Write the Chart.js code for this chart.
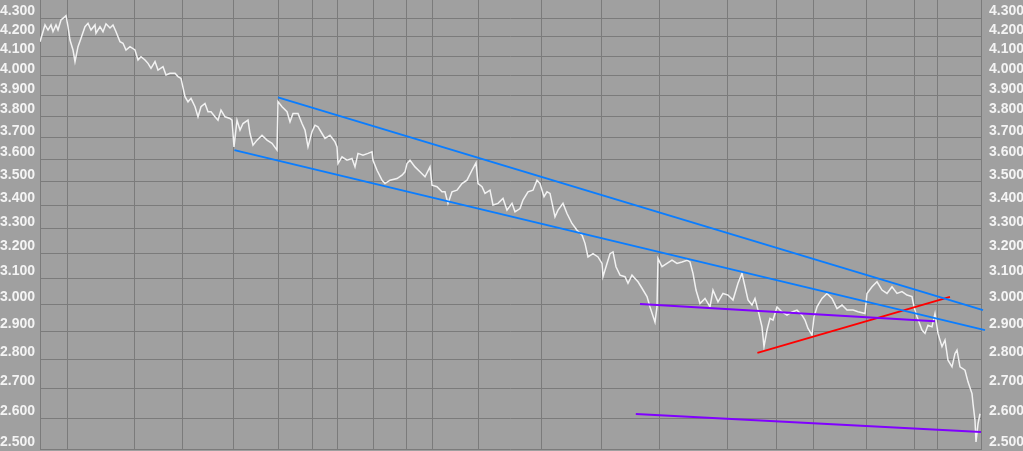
<!DOCTYPE html>
<html>
<head>
<meta charset="utf-8">
<script src="https://cdn.jsdelivr.net/npm/chart.js@4.4.1/dist/chart.umd.min.js"></script>
<style>
    html, body { margin: 0; padding: 0; background: #a0a0a0; }
    canvas { display: block; }
</style>
</head>
<body>
<canvas id="grafico" width="1023" height="451"></canvas>
<script>
// ============================================================================
// DATA
// ============================================================================
// price series: trading day index -> close
const priceDays = [
    0, 2.5, 4, 5.5, 6.5, 8, 9, 10.5, 12.5, 13, 14, 15, 16.5, 17.5, 19, 20.5, 22.5, 24, 25.5, 27.5,
    28, 30, 31.5, 33, 35, 36.5, 38, 40, 41.5, 43, 45, 47.5, 49, 50.5, 52.5, 54, 55.5, 57.5, 59, 61.5,
    63, 65, 67.5, 69, 70.5, 72.5, 74, 75.5, 77.5, 79, 80.5, 82.5, 84, 85.5, 87.5, 89, 90.5, 92.5, 95, 96,
    97, 98.5, 100, 101.5, 104, 105, 106.5, 108.5, 111, 113.5, 116, 118.5, 119, 121, 123.5, 125, 126.5, 129, 131, 132.5,
    134, 136, 137.5, 139, 141, 142.5, 145, 147.5, 148.5, 149, 151, 153.5, 156, 157.5, 159, 161.5, 164, 166, 166.5, 168.5,
    171, 172.5, 175, 178.5, 181, 182.5, 183.5, 185, 187.5, 190, 192.5, 195, 196, 198.5, 201, 202.5, 204, 206, 208.5, 211,
    213.5, 216, 218, 219, 221, 222.5, 225, 226.5, 229, 231.5, 233.5, 236, 237.5, 240, 241.5, 244, 246.5, 248.5, 250, 252,
    253.5, 255, 257.5, 259, 261.5, 263.5, 266, 268.5, 271, 272.5, 274, 276.5, 279, 281, 281.5, 283.5, 285, 286.5, 288, 290,
    292.5, 294, 296, 297.5, 299, 301, 303.5, 305, 307.5, 308.5, 309, 311, 313.5, 316, 318.5, 321, 323.5, 325, 326.5, 328,
    330, 332.5, 335, 336.5, 339, 341.5, 344, 346.5, 349, 351, 352.5, 354, 356, 357.5, 359, 361, 362, 363.5, 365, 366.5,
    368.5, 371, 373.5, 376, 378.5, 381, 382.5, 384, 386, 387, 388.5, 391, 393.5, 396, 398.5, 401, 403.5, 406.5, 409, 412.5,
    413.5, 416, 418.5, 421, 423.5, 426, 428.5, 431, 433.5, 436, 437, 438.5, 441, 442.5, 444, 446, 447.5, 449, 451, 452.5,
    454, 456, 457.5, 458.5, 460, 462.5, 464, 466, 466.5, 467.5, 468, 469, 470
];
const priceValues = [
    4.175, 4.264, 4.237, 4.264, 4.228, 4.264, 4.237, 4.291, 4.309, 4.314, 4.255, 4.184, 4.132, 4.072, 4.149, 4.193, 4.255, 4.273, 4.237, 4.264,
    4.220, 4.255, 4.228, 4.270, 4.248, 4.264, 4.228, 4.175, 4.167, 4.132, 4.149, 4.132, 4.080, 4.097, 4.080, 4.063, 4.038, 4.072, 4.029, 4.046,
    4.004, 4.013, 4.013, 3.996, 3.987, 3.896, 3.871, 3.888, 3.847, 3.799, 3.847, 3.863, 3.823, 3.823, 3.799, 3.783, 3.831, 3.799, 3.791, 3.783,
    3.658, 3.783, 3.736, 3.767, 3.783, 3.720, 3.666, 3.689, 3.712, 3.689, 3.674, 3.643, 3.872, 3.847, 3.823, 3.775, 3.815, 3.815, 3.767, 3.736,
    3.658, 3.728, 3.759, 3.751, 3.720, 3.697, 3.712, 3.681, 3.658, 3.582, 3.612, 3.597, 3.605, 3.567, 3.628, 3.620, 3.628, 3.635, 3.597, 3.552,
    3.508, 3.493, 3.508, 3.515, 3.530, 3.545, 3.582, 3.597, 3.567, 3.545, 3.523, 3.567, 3.486, 3.479, 3.457, 3.457, 3.407, 3.457, 3.464, 3.493,
    3.508, 3.552, 3.585, 3.493, 3.479, 3.450, 3.464, 3.400, 3.407, 3.428, 3.378, 3.407, 3.371, 3.385, 3.421, 3.457, 3.464, 3.508, 3.493, 3.436,
    3.457, 3.450, 3.350, 3.378, 3.407, 3.364, 3.322, 3.294, 3.274, 3.240, 3.185, 3.198, 3.185, 3.159, 3.107, 3.159, 3.198, 3.205, 3.146, 3.113,
    3.107, 3.081, 3.113, 3.100, 3.087, 3.062, 3.030, 2.991, 2.934, 2.991, 3.179, 3.146, 3.159, 3.172, 3.159, 3.165, 3.172, 3.165, 3.120, 3.055,
    3.004, 3.023, 2.991, 3.055, 3.010, 3.042, 3.036, 3.017, 3.081, 3.120, 3.068, 3.017, 2.998, 3.023, 2.979, 2.917, 2.845, 2.905, 2.948, 2.942,
    2.991, 2.972, 2.960, 2.972, 2.979, 2.960, 2.942, 2.911, 2.887, 2.954, 2.991, 3.023, 3.042, 3.023, 2.985, 2.998, 2.979, 2.979, 2.973, 2.966,
    3.042, 3.068, 3.087, 3.055, 3.042, 3.068, 3.042, 3.049, 3.036, 3.030, 2.991, 2.954, 2.905, 2.893, 2.923, 2.917, 2.966, 2.893, 2.845, 2.869,
    2.797, 2.774, 2.821, 2.833, 2.774, 2.762, 2.722, 2.682, 2.649, 2.593, 2.524, 2.582, 2.615
];

// vertical grid lines (period boundaries, in trading days)
const gridDays = [0, 13.5, 47, 71, 96.5, 119, 136, 148.5, 166.5, 183, 196, 219, 250.5, 280.5,
                  309.5, 343.5, 368, 386.5, 413, 437, 448.5, 470.5];

// price ticks (log scale)
const yTicks = [2.5, 2.6, 2.7, 2.8, 2.9, 3.0, 3.1, 3.2, 3.3, 3.4, 3.5, 3.6, 3.7, 3.8, 3.9, 4.0, 4.1, 4.2, 4.3];

// drawn trend lines: [day, price] start and end
const upperChannel = [[119, 3.893], [471.5, 2.979]];
const lowerChannel = [[97.2, 3.643], [472.5, 2.905]];
const purpleUpper  = [[300, 3.002], [447.5, 2.938]];
const purpleLower  = [[297.9, 2.614], [470.5, 2.556]];
const redSupport   = [[358.7, 2.823], [455, 3.029]];


// ============================================================================
// HELPERS
// ============================================================================
const GRID = '#7b7b7b';
const LABEL_FONT = { family: 'Liberation Sans', size: 14, weight: 'bold' };

function trendDataset(pts, cor, largura) {
    return {
        data: pts.map(p => ({ x: p[0], y: p[1] })),
        borderColor: cor,
        borderWidth: largura,
        pointRadius: 0,
        clip: 6
    };
}

function eixoPreco(posicao, largura, padding, mostrarGrade) {
    return {
        type: 'logarithmic',
        position: posicao,
        min: 2.5,
        max: 4.4,
        afterBuildTicks: s => { s.ticks = yTicks.map(v => ({ value: v })); },
        afterFit: s => {
            s.width = largura;
            // labels sit above their line, no need to reserve room for them
            s.paddingTop = 0;
            s.paddingBottom = 0;
        },
        border: { display: false },
        grid: { display: mostrarGrade, color: GRID, lineWidth: 1, drawTicks: false },
        ticks: {
            autoSkip: false,
            padding: padding,
            labelOffset: -7,
            color: '#f4f4f4',
            font: LABEL_FONT,
            callback: v => Number(v).toFixed(3)
        }
    };
}


// ============================================================================
// CHART
// ============================================================================
new Chart(document.getElementById('grafico'), {
    type: 'line',
    data: {
        datasets: [
            trendDataset(upperChannel, '#0a7dff', 2),
            trendDataset(lowerChannel, '#0a7dff', 2),
            trendDataset(purpleUpper, '#8000ff', 2),
            trendDataset(purpleLower, '#8000ff', 2),
            trendDataset(redSupport, '#ff0000', 2),
            {
                data: priceDays.map((d, i) => ({ x: d, y: priceValues[i] })),
                borderColor: '#f2f2f2',
                borderWidth: 1.5,
                pointRadius: 0,
                tension: 0
            }
        ]
    },
    options: {
        responsive: false,
        animation: false,
        layout: { padding: { top: 0, bottom: 1.5, left: 0, right: 0 } },
        plugins: { legend: { display: false }, tooltip: { enabled: false } },
        scales: {
            x: {
                type: 'linear',
                min: 0,
                max: 470.5,
                afterBuildTicks: s => { s.ticks = gridDays.map(v => ({ value: v })); },
                afterFit: s => { s.height = 0; s.paddingLeft = 0; s.paddingRight = 0; },
                border: { display: false },
                grid: { color: GRID, lineWidth: 1, drawTicks: false },
                ticks: { display: false }
            },
            y: eixoPreco('left', 40, 5, true),
            yDir: eixoPreco('right', 42, 8, false)
        }
    }
});
</script>
</body>
</html>
